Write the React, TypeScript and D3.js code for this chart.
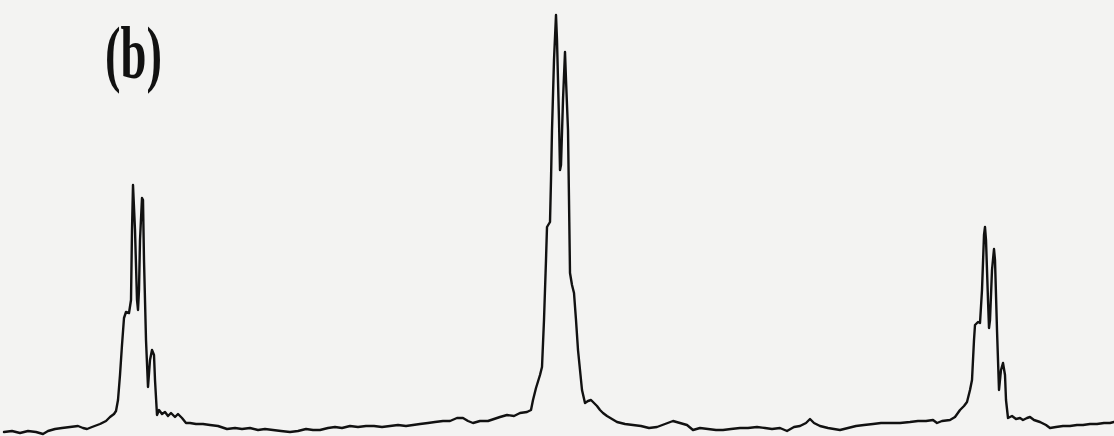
import React from "react";
import * as d3 from "d3";

const W = 1114;
const H = 436;

// [channel, counts], split by region
const leftWing: [number, number][] = [
  [4, 4], [12, 5], [20, 3], [28, 5], [36, 4], [43, 2], [48, 5], [55, 7], [62, 8], [70, 9],
  [78, 10], [83, 8], [87, 7], [92, 9], [100, 12], [106, 15], [110, 19], [114, 22], [116, 25],
];

const peakA: [number, number][] = [
  [118, 36], [120, 61], [122, 91], [124, 118], [126, 124], [129, 123], [131, 136], [132, 206],
  [133, 251], [135, 206], [137, 136], [138, 126], [139, 146], [140, 196], [142, 238], [143, 236],
  [144, 176], [146, 96], [148, 49], [150, 76], [152, 86], [154, 81], [155, 56], [157, 21],
  [159, 26], [162, 22], [165, 24], [168, 20], [171, 23], [175, 19], [178, 22], [182, 18], [186, 13],
];

const gapAB: [number, number][] = [
  [190, 13], [196, 12], [203, 12], [210, 11], [218, 10], [227, 7], [235, 8], [242, 7], [250, 8],
  [258, 6], [265, 7], [273, 6], [281, 5], [290, 4], [298, 5], [306, 7], [313, 6], [320, 6],
  [328, 8], [335, 9], [342, 8], [350, 10], [358, 9], [366, 10], [374, 10], [382, 9], [390, 10],
  [398, 11], [406, 10], [413, 11], [420, 12], [428, 13], [435, 14], [443, 15], [450, 15],
  [457, 18], [463, 18], [468, 15], [473, 13], [480, 15], [488, 15], [494, 17], [500, 19],
  [507, 21], [514, 20], [520, 23], [527, 24], [531, 26],
];

const peakB: [number, number][] = [
  [533, 36], [536, 48], [540, 61], [542, 69], [544, 116], [546, 176], [547, 209], [550, 214],
  [551, 256], [552, 306], [554, 376], [556, 421], [557, 396], [559, 316], [560, 266], [561, 271],
  [563, 336], [565, 384], [566, 356], [568, 306], [569, 236], [570, 163], [572, 151], [574, 143],
  [576, 116], [578, 86], [580, 66], [582, 46], [585, 33], [588, 35], [591, 36], [594, 33],
  [597, 30], [600, 26], [603, 23], [607, 20], [612, 17], [617, 14],
];

const gapBC: [number, number][] = [
  [625, 12], [633, 11], [641, 10], [649, 8], [657, 9], [665, 12], [673, 15], [680, 13], [687, 11],
  [693, 6], [700, 8], [708, 7], [716, 6], [723, 6], [731, 7], [740, 8], [748, 8], [757, 9],
  [765, 8], [772, 7], [780, 8], [787, 5], [794, 9], [800, 10], [806, 13], [810, 17], [814, 13],
  [820, 10], [828, 8], [834, 7], [840, 6], [848, 8], [856, 10], [864, 11], [873, 12], [881, 13],
  [890, 13], [900, 13], [910, 14], [918, 15], [926, 15], [933, 16], [937, 13], [942, 15],
  [950, 16], [955, 19],
];

const peakC: [number, number][] = [
  [960, 26], [964, 30], [967, 34], [970, 46], [972, 56], [974, 96], [975, 111], [978, 114],
  [980, 113], [982, 146], [984, 201], [985, 209], [986, 196], [988, 136], [989, 108], [990, 116],
  [992, 166], [994, 187], [995, 176], [997, 106], [999, 46], [1001, 66], [1003, 73], [1005, 61],
  [1006, 36], [1008, 18],
];

const rightWing: [number, number][] = [
  [1012, 20], [1016, 17], [1020, 18], [1023, 16], [1027, 18], [1030, 19], [1034, 16], [1040, 14],
  [1046, 11], [1050, 8], [1056, 9], [1063, 10], [1070, 10], [1077, 11], [1083, 11], [1090, 12],
  [1097, 12], [1104, 13], [1110, 13], [1114, 14],
];

const panelLabel = "(b)";

export default function App() {
  const trace = [...leftWing, ...peakA, ...gapAB, ...peakB, ...gapBC, ...peakC, ...rightWing];

  const x = d3.scaleLinear().domain([0, 1114]).range([0, W]);
  const y = d3.scaleLinear().domain([0, 436]).range([H, 0]);

  const line = d3
    .line<[number, number]>()
    .x((d) => x(d[0]))
    .y((d) => y(d[1]));

  return (
    <svg
      width={W}
      height={H}
      style={{ position: "fixed", left: 0, top: 0, display: "block" }}
    >
      <rect width={W} height={H} fill="#f3f3f2" />
      <path
        d={line(trace) ?? ""}
        fill="none"
        stroke="#111"
        strokeWidth={2.4}
        strokeLinejoin="round"
        strokeLinecap="round"
      />
      <text
        x={105}
        y={78}
        fontFamily="'Liberation Serif', serif"
        fontWeight="bold"
        fontSize={74}
        textLength={57}
        lengthAdjust="spacingAndGlyphs"
        fill="#111"
      >
        {panelLabel}
      </text>
    </svg>
  );
}
